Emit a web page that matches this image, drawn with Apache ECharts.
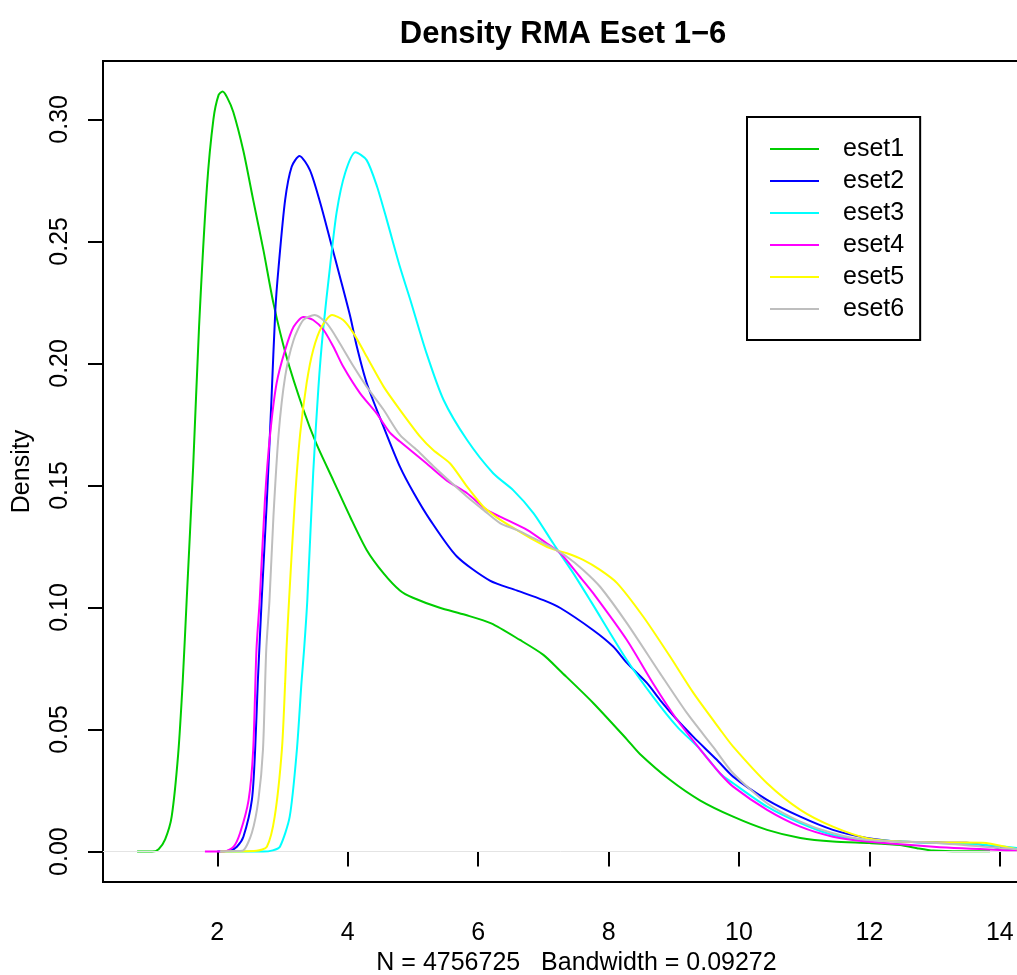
<!DOCTYPE html>
<html>
<head>
<meta charset="utf-8">
<script src="https://cdn.jsdelivr.net/npm/echarts@6/dist/echarts.min.js"></script>
<style>
html,body{margin:0;padding:0;background:#fff;overflow:hidden;}
#chart{width:1017px;height:975px;}
</style>
</head>
<body>
<div id="chart"></div>
<script>
// ---- data (x, density) ----
const seriesNames = ['eset1', 'eset2', 'eset3', 'eset4', 'eset5', 'eset6'];
const seriesColors = ['#00CD00', '#0000FF', '#00FFFF', '#FF00FF', '#FFFF00', '#BEBEBE'];

const eset1 = [[0.77,0],[1.0,0],[1.1,0.001],[1.2,0.005],[1.3,0.0143],[1.4,0.04],[1.47,0.07],[1.53,0.103],[1.63,0.158],[1.72,0.215],[1.84,0.272],[1.94,0.300],[2.02,0.310],[2.08,0.3114],[2.15,0.309],[2.245,0.303],[2.40,0.287],[2.55,0.267],[2.71,0.246],[2.86,0.2247],[3.06,0.2028],[3.32,0.181],[3.52,0.167],[3.78,0.152],[4.04,0.137],[4.29,0.1236],[4.55,0.114],[4.80,0.107],[5.0,0.104],[5.4,0.100],[5.8,0.097],[6.2,0.0935],[6.64,0.0867],[7.0,0.0806],[7.26,0.074],[7.76,0.061],[8.28,0.046],[8.48,0.040],[8.94,0.0294],[9.40,0.021],[9.91,0.0143],[10.43,0.0089],[10.94,0.0056],[11.44,0.0041],[12.0,0.0035],[12.47,0.0027],[12.73,0.0014],[12.98,0.0004],[13.4,0.0001],[13.85,0.0001]];

const eset2 = [[2.0,0],[2.2,0.0005],[2.30,0.002],[2.40,0.0061],[2.53,0.0212],[2.58,0.0417],[2.62,0.069],[2.68,0.103],[2.76,0.144],[2.83,0.185],[2.89,0.222],[2.94,0.2396],[3.04,0.267],[3.14,0.2806],[3.26,0.285],[3.42,0.2792],[3.58,0.2656],[3.73,0.2506],[3.88,0.2355],[4.04,0.219],[4.14,0.2068],[4.29,0.192],[4.55,0.174],[4.80,0.1577],[5.01,0.147],[5.26,0.136],[5.67,0.121],[6.18,0.111],[6.59,0.107],[7.0,0.103],[7.26,0.0998],[7.76,0.0908],[8.07,0.084],[8.28,0.0773],[8.59,0.069],[8.79,0.0621],[9.05,0.054],[9.30,0.047],[9.66,0.0376],[9.91,0.0307],[10.43,0.0212],[10.94,0.0143],[11.44,0.0089],[11.96,0.0056],[12.47,0.0041],[13.0,0.0037],[13.49,0.0036],[14.0,0.0015],[14.5,0.0005]];

const eset3 = [[2.05,0],[2.7,0],[2.85,0.0005],[2.96,0.002],[3.11,0.0143],[3.22,0.0417],[3.29,0.069],[3.33,0.0826],[3.38,0.103],[3.47,0.155],[3.55,0.19],[3.62,0.213],[3.73,0.240],[3.83,0.262],[3.96,0.278],[4.12,0.2865],[4.29,0.2833],[4.45,0.2724],[4.60,0.2587],[4.80,0.2396],[4.96,0.226],[5.21,0.204],[5.47,0.185],[5.83,0.1686],[6.23,0.155],[6.54,0.148],[6.85,0.1386],[7.15,0.1263],[7.46,0.114],[7.74,0.102],[8.28,0.0785],[8.68,0.0635],[9.05,0.0512],[9.40,0.042],[9.71,0.032],[9.91,0.028],[10.43,0.0184],[10.94,0.0117],[11.44,0.0068],[11.96,0.0048],[12.98,0.0036],[13.74,0.0028],[14.5,0.0008]];

const eset4 = [[1.81,0],[2.1,0],[2.25,0.002],[2.35,0.0077],[2.48,0.0212],[2.55,0.0417],[2.60,0.0826],[2.65,0.103],[2.73,0.144],[2.81,0.171],[2.91,0.192],[3.04,0.2055],[3.17,0.215],[3.32,0.219],[3.47,0.2178],[3.63,0.2137],[3.78,0.2068],[3.93,0.1987],[4.19,0.1877],[4.44,0.1796],[4.65,0.1715],[4.80,0.168],[5.21,0.159],[5.52,0.152],[5.83,0.1468],[6.13,0.14],[6.44,0.1359],[6.75,0.1318],[7.05,0.1263],[7.26,0.1222],[7.56,0.1126],[7.76,0.106],[8.28,0.0867],[8.68,0.069],[9.05,0.054],[9.40,0.042],[9.71,0.032],[9.91,0.0266],[10.43,0.0171],[10.94,0.0102],[11.44,0.0061],[11.96,0.0041],[12.98,0.002],[14.0,0.0007],[14.5,0.0004]];

const eset5 = [[2.05,0],[2.6,0.0003],[2.76,0.002],[2.88,0.0143],[2.99,0.0417],[3.04,0.069],[3.06,0.0826],[3.10,0.103],[3.19,0.144],[3.27,0.171],[3.37,0.192],[3.47,0.2055],[3.60,0.215],[3.76,0.2198],[3.93,0.2178],[4.09,0.2123],[4.29,0.2028],[4.55,0.1905],[4.80,0.181],[5.11,0.170],[5.31,0.1645],[5.57,0.159],[5.83,0.1495],[6.08,0.1413],[6.34,0.1359],[6.59,0.1318],[6.85,0.1277],[7.10,0.1243],[7.36,0.1222],[7.61,0.1195],[7.87,0.1154],[8.13,0.110],[8.53,0.0963],[8.94,0.080],[9.30,0.065],[9.71,0.050],[9.91,0.043],[10.43,0.028],[10.94,0.0171],[11.44,0.0102],[11.96,0.0055],[12.47,0.0041],[13.24,0.0037],[13.74,0.0036],[14.26,0.001],[14.5,0.0006]];

const eset6 = [[2.04,0],[2.3,0.0002],[2.4,0.0005],[2.53,0.0077],[2.63,0.0212],[2.70,0.0417],[2.75,0.0826],[2.80,0.103],[2.86,0.137],[2.94,0.171],[3.04,0.1946],[3.17,0.2096],[3.32,0.2178],[3.49,0.2198],[3.68,0.2164],[3.88,0.2082],[4.09,0.1987],[4.29,0.1905],[4.55,0.181],[4.80,0.1707],[5.06,0.1645],[5.31,0.158],[5.57,0.1516],[5.83,0.1454],[6.08,0.14],[6.34,0.1345],[6.59,0.1318],[6.85,0.1284],[7.10,0.125],[7.36,0.1208],[7.61,0.1154],[7.87,0.1085],[8.28,0.0936],[8.79,0.073],[9.20,0.0568],[9.60,0.043],[9.91,0.0321],[10.43,0.0198],[10.94,0.0123],[11.44,0.0075],[11.96,0.0048],[12.98,0.0036],[14.0,0.0015],[14.5,0.0006]];

const xTicks = [2, 4, 6, 8, 10, 12, 14];
const yTicks = [0, 0.05, 0.10, 0.15, 0.20, 0.25, 0.30];

const titleText = 'Density RMA Eset 1\u22126';
const xAxisTitle = 'N = 4756725   Bandwidth = 0.09272';
const yAxisTitle = 'Density';

// ---- chart ----
const FONT = "'Liberation Sans Narrow','Liberation Sans',Arial,sans-serif";
const allData = [eset1, eset2, eset3, eset4, eset5, eset6];

const chart = echarts.init(document.getElementById('chart'), null, {renderer: 'canvas'});

const series = allData.map((d, i) => ({
  name: seriesNames[i],
  type: 'line',
  data: d,
  showSymbol: false,
  symbol: 'none',
  smooth: 0.25,
  lineStyle: {color: seriesColors[i], width: 2},
  itemStyle: {color: seriesColors[i]},
  z: 3 + i,
  animation: false,
  markLine: i === 0 ? {
    silent: true,
    symbol: ['none', 'none'],
    label: {show: false},
    lineStyle: {color: '#e4e4e4', width: 1, type: 'solid'},
    data: [{yAxis: 0}],
    animation: false
  } : undefined
}));

chart.setOption({
  backgroundColor: '#ffffff',
  animation: false,
  title: {
    text: titleText,
    left: 558,
    top: 14,
    textAlign: 'center',
    textStyle: {fontFamily: FONT, fontSize: 31, fontWeight: 'bold', color: '#000', lineHeight: 31}
  },
  legend: {
    orient: 'vertical',
    left: 747,
    top: 117,
    padding: [17, 16, 16, 23],
    borderColor: '#000',
    borderWidth: 2,
    backgroundColor: '#fff',
    icon: 'rect',
    itemWidth: 49,
    itemHeight: 2,
    itemGap: 2,
    data: seriesNames,
    textStyle: {fontFamily: FONT, fontSize: 25, color: '#000', lineHeight: 30, padding: [0, 0, 0, 19]}
  },
  grid: {
    left: 103,
    top: 61,
    width: 921,
    height: 821,
    show: true,
    borderColor: '#000',
    borderWidth: 2,
    backgroundColor: 'transparent',
    outerBoundsMode: 'none'
  },
  xAxis: {
    type: 'value',
    min: 0.247,
    max: 14.37,
    name: xAxisTitle,
    nameLocation: 'middle',
    nameGap: 68,
    nameTextStyle: {fontFamily: FONT, fontSize: 25, color: '#000', lineHeight: 25, padding: [0, 0, 0, 26]},
    axisLine: {show: false},
    splitLine: {show: false},
    axisTick: {show: true, length: 15, lineStyle: {color: '#000', width: 2}, customValues: xTicks},
    axisLabel: {
      customValues: xTicks,
      fontFamily: FONT, fontSize: 25, color: '#000', lineHeight: 25, margin: 39,
      formatter: v => String(v)
    }
  },
  yAxis: {
    type: 'value',
    min: -0.01246,
    max: 0.3239,
    name: yAxisTitle,
    nameLocation: 'middle',
    nameGap: 68,
    nameTextStyle: {fontFamily: FONT, fontSize: 25, color: '#000', lineHeight: 25},
    axisLine: {show: false},
    splitLine: {show: false},
    axisTick: {show: true, length: 15, lineStyle: {color: '#000', width: 2}, customValues: yTicks},
    axisLabel: {
      customValues: yTicks,
      rotate: 90,
      fontFamily: FONT, fontSize: 25, color: '#000', lineHeight: 25, margin: 30,
      formatter: v => Number(v).toFixed(2)
    }
  },
  series: series
});
</script>
</body>
</html>
